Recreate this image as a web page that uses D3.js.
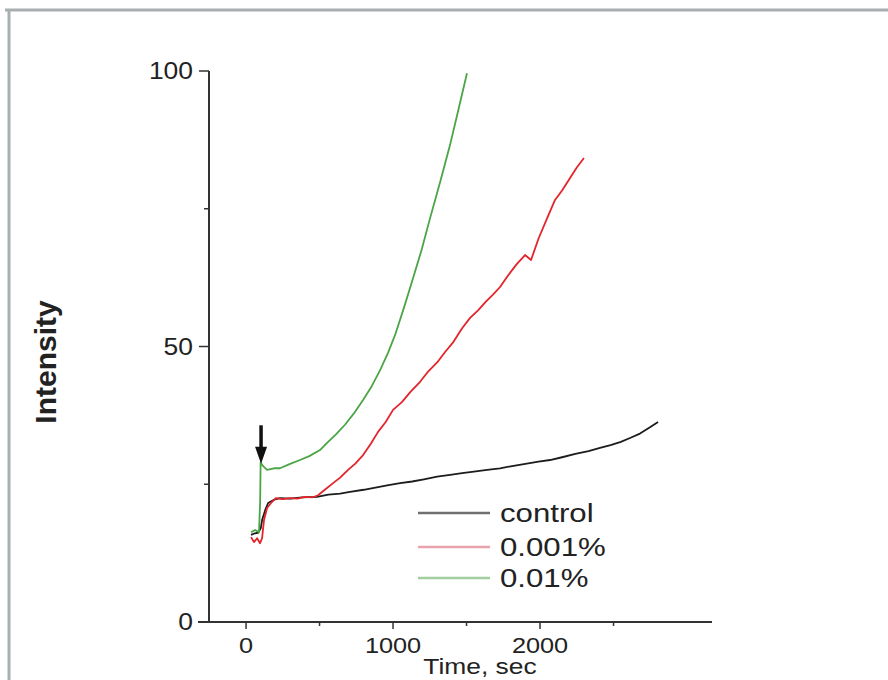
<!DOCTYPE html>
<html>
<head>
<meta charset="utf-8">
<script src="https://cdn.jsdelivr.net/npm/d3@7"></script>
<style>
html,body{margin:0;padding:0;background:#fff;}
svg{display:block;}
text{font-family:"Liberation Sans",Arial,sans-serif;fill:#222;}
</style>
</head>
<body>
<svg id="chart" width="888" height="680"></svg>
<script>
// ---- data (time in sec, intensity) ----
const seriesNames = ["control", "0.001%", "0.01%"];
const seriesColors = ["#1c1c1c", "#e3242b", "#4aa545"];
const legendColors = ["#707070", "#e9a3ad", "#a3cfa0"];

const controlT = [34, 60, 82, 100, 109, 130, 150, 190, 231, 300, 380, 483, 560, 640, 707, 800, 880, 960, 1048, 1130, 1210, 1300, 1388, 1470, 1550, 1640, 1728, 1810, 1900, 1990, 2068, 2150, 2240, 2330, 2408, 2480, 2550, 2612, 2680, 2740, 2803];
const controlV = [15.8, 16.1, 16.2, 17.0, 18.5, 20.3, 21.6, 22.2, 22.5, 22.4, 22.6, 22.7, 23.1, 23.3, 23.6, 24.0, 24.4, 24.8, 25.2, 25.5, 25.9, 26.4, 26.7, 27.0, 27.3, 27.6, 27.9, 28.3, 28.7, 29.1, 29.4, 29.9, 30.5, 31.0, 31.6, 32.1, 32.7, 33.4, 34.2, 35.2, 36.3];

const redT = [34, 54, 75, 95, 109, 122, 143, 170, 204, 250, 299, 350, 401, 450, 490, 540, 592, 640, 694, 745, 796, 850, 898, 950, 1000, 1060, 1120, 1184, 1240, 1300, 1354, 1410, 1470, 1524, 1580, 1630, 1680, 1728, 1780, 1840, 1898, 1939, 1990, 2050, 2102, 2150, 2200, 2250, 2299];
const redV = [15.4, 14.5, 15.2, 14.3, 15.2, 18.5, 20.7, 21.6, 22.5, 22.3, 22.5, 22.4, 22.7, 22.6, 23.0, 24.1, 25.2, 26.2, 27.6, 28.8, 30.3, 32.4, 34.5, 36.3, 38.5, 39.9, 41.8, 43.6, 45.5, 47.1, 49.0, 50.8, 53.3, 55.2, 56.6, 58.1, 59.4, 60.8, 62.8, 64.9, 66.6, 65.7, 69.6, 73.4, 76.6, 78.3, 80.4, 82.5, 84.2];

const greenT = [34, 61, 88, 96, 99, 107, 116, 143, 190, 231, 300, 367, 430, 503, 551, 610, 673, 735, 796, 855, 912, 965, 1014, 1075, 1136, 1195, 1252, 1320, 1388, 1445, 1503];
const greenV = [16.3, 16.7, 16.3, 22.0, 29.0, 28.6, 28.3, 27.6, 27.9, 27.9, 28.7, 29.4, 30.1, 31.2, 32.5, 34.0, 35.8, 37.9, 40.3, 42.8, 45.7, 48.8, 52.1, 57.1, 62.4, 67.6, 73.3, 79.8, 86.6, 93.0, 99.6];

const xMajorTicks = [0, 1000, 2000];
const xMinorTicks = [500, 1500, 2500];
const yMajorTicks = [0, 50, 100];
const yMinorTicks = [25, 75];
const xLabel = "Time, sec";
const yLabel = "Intensity";
const arrowTime = 102;
const arrowFrom = 35.7, arrowTo = 28.7;

// ---- drawing ----
const svg = d3.select("#chart");

// frame (top and left edges of a grey box)
svg.append("line").attr("x1", 5).attr("x2", 888).attr("y1", 10).attr("y2", 10)
  .attr("stroke", "#a9afb1").attr("stroke-width", 3);
svg.append("line").attr("x1", 9).attr("x2", 9).attr("y1", 9).attr("y2", 680)
  .attr("stroke", "#a9afb1").attr("stroke-width", 3);

const x = d3.scaleLinear().domain([-327, 3170]).range([198, 712]);
const y = d3.scaleLinear().domain([0, 100]).range([622, 71]);

const axisColor = "#333";
const sx = 1.15;

// x axis line
svg.append("line").attr("x1", x.range()[0]).attr("x2", x.range()[1])
  .attr("y1", y(0)).attr("y2", y(0)).attr("stroke", axisColor).attr("stroke-width", 2);
// y axis line
svg.append("line").attr("x1", 209).attr("x2", 209)
  .attr("y1", y(100)).attr("y2", y(0)).attr("stroke", axisColor).attr("stroke-width", 2);

// x ticks
svg.selectAll(".xmaj").data(xMajorTicks).enter().append("line")
  .attr("x1", d => x(d)).attr("x2", d => x(d)).attr("y1", y(0)).attr("y2", y(0) + 7)
  .attr("stroke", axisColor).attr("stroke-width", 1.5);
svg.selectAll(".xmin").data(xMinorTicks).enter().append("line")
  .attr("x1", d => x(d)).attr("x2", d => x(d)).attr("y1", y(0)).attr("y2", y(0) + 4)
  .attr("stroke", axisColor).attr("stroke-width", 1.5);
svg.selectAll(".xlab").data(xMajorTicks).enter().append("g")
  .attr("transform", d => `translate(${x(d)},${y(0) + 31}) scale(${sx},1)`)
  .append("text").attr("text-anchor", "middle").attr("font-size", 22).text(d => d);

// y ticks
svg.selectAll(".ymaj").data(yMajorTicks).enter().append("line")
  .attr("x1", 199).attr("x2", 209).attr("y1", d => y(d)).attr("y2", d => y(d))
  .attr("stroke", axisColor).attr("stroke-width", 1.5);
svg.selectAll(".ymin").data(yMinorTicks).enter().append("line")
  .attr("x1", 204).attr("x2", 209).attr("y1", d => y(d)).attr("y2", d => y(d))
  .attr("stroke", axisColor).attr("stroke-width", 1.5);
svg.selectAll(".ylab").data(yMajorTicks).enter().append("g")
  .attr("transform", d => `translate(193,${y(d) + 8}) scale(${sx},1)`)
  .append("text").attr("text-anchor", "end").attr("font-size", 23).text(d => d);

// axis titles
svg.append("g").attr("transform", `translate(480,674) scale(1.2,1)`)
  .append("text").attr("text-anchor", "middle").attr("font-size", 22).text(xLabel);
svg.append("text").attr("transform", "translate(56,362) rotate(-90)")
  .attr("text-anchor", "middle").attr("font-size", 30).attr("font-weight", "bold").text(yLabel);

// series
const line = d3.line().x(d => x(d[0])).y(d => y(d[1]));
const allT = [controlT, redT, greenT];
const allV = [controlV, redV, greenV];
allT.forEach((ts, i) => {
  const pts = ts.map((t, j) => [t, allV[i][j]]);
  svg.append("path").datum(pts).attr("d", line).attr("fill", "none")
    .attr("stroke", seriesColors[i]).attr("stroke-width", 1.8).attr("stroke-linejoin", "round");
});

// arrow
const ax = x(arrowTime);
svg.append("line").attr("x1", ax).attr("x2", ax)
  .attr("y1", y(arrowFrom)).attr("y2", y(arrowTo) - 12)
  .attr("stroke", "#111").attr("stroke-width", 3.5);
svg.append("path")
  .attr("d", `M${ax - 6},${y(arrowTo) - 17} L${ax + 6},${y(arrowTo) - 17} L${ax},${y(arrowTo)} Z`)
  .attr("fill", "#111");

// legend
const legY = [513, 547, 578];
seriesNames.forEach((name, i) => {
  svg.append("line").attr("x1", 418).attr("x2", 490).attr("y1", legY[i]).attr("y2", legY[i])
    .attr("stroke", legendColors[i]).attr("stroke-width", 2.5);
  svg.append("g").attr("transform", `translate(500,${legY[i] + 9}) scale(1.2,1)`)
    .append("text").attr("font-size", 26).text(name);
});
</script>
</body>
</html>
